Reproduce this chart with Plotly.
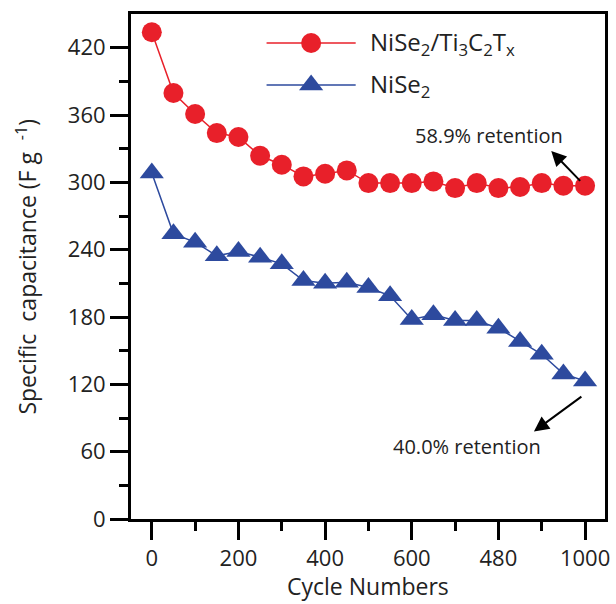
import plotly.graph_objects as go

# Cycling stability: specific capacitance every 50 cycles
cycles = list(range(0, 1001, 50))
composite_cap = [433.7, 379.6, 360.9, 343.9, 340.4, 323.7, 315.7, 305.3, 307.6, 310.6,
                 299.3, 299.3, 299.3, 300.8, 294.9, 299.3, 294.9, 295.8, 299.3, 297.0, 297.0]
nise2_cap = [308.3, 254.1, 246.7, 234.5, 238.4, 233.3, 227.4, 212.5, 210.1, 211.0,
             206.3, 198.9, 177.8, 181.9, 176.8, 176.8, 170.0, 158.1, 146.8, 129.3, 123.0]

series_names = ["NiSe<sub>2</sub>/Ti<sub>3</sub>C<sub>2</sub>T<sub>x</sub>", "NiSe<sub>2</sub>"]
retention_labels = ["58.9% retention", "40.0% retention"]

x_tickvals = [0, 200, 400, 600, 800, 1000]
x_ticktext = ["0", "200", "400", "600", "480", "1000"]
y_tickvals = [0, 60, 120, 180, 240, 300, 360, 420]

RED = "#e8202a"
BLUE = "#2d4a9e"
FONT = "Open Sans"
TEXT = "#222"

fig = go.Figure()

fig.add_trace(go.Scatter(
    x=cycles, y=composite_cap, mode="lines+markers",
    line=dict(color=RED, width=1.5),
    marker=dict(symbol="circle", size=20, color=RED),
    showlegend=False,
))
fig.add_trace(go.Scatter(
    x=cycles, y=nise2_cap, mode="lines+markers",
    line=dict(color=BLUE, width=1.5),
    marker=dict(symbol="triangle-up", size=21, color=BLUE),
    showlegend=False,
))

# Hand-drawn legend on an overlay axis spanning the plot area (0..1)
legend_rows = [(0.9426, RED, "circle", 20, series_names[0]),
               (0.8594, BLUE, "triangle-up", 21, series_names[1])]
for yrow, col, sym, msize, name in legend_rows:
    fig.add_trace(go.Scatter(
        x=[0.286, 0.474], y=[yrow, yrow], mode="lines",
        line=dict(color=col, width=1.5), xaxis="x2", yaxis="y2",
        showlegend=False, hoverinfo="skip",
    ))
    fig.add_trace(go.Scatter(
        x=[0.380], y=[yrow], mode="markers",
        marker=dict(symbol=sym, size=msize, color=col), xaxis="x2", yaxis="y2",
        showlegend=False, hoverinfo="skip",
    ))
    fig.add_annotation(x=0.499, y=yrow, xref="x2", yref="y2", text=name,
                       showarrow=False, xanchor="left", yanchor="middle",
                       font=dict(family=FONT, size=24, color=TEXT))

# Retention labels and arrows
fig.add_annotation(x=0.756, y=0.760, xref="paper", yref="paper",
                   text=retention_labels[0], showarrow=False,
                   xanchor="center", yanchor="middle",
                   font=dict(family=FONT, size=20, color=TEXT))
fig.add_annotation(x=922, y=328, ax=992, ay=300, xref="x", yref="y",
                   axref="x", ayref="y", text="", showarrow=True,
                   arrowhead=2, arrowsize=1.5, arrowwidth=2, arrowcolor="black")
fig.add_annotation(x=0.708, y=0.1426, xref="paper", yref="paper",
                   text=retention_labels[1], showarrow=False,
                   xanchor="center", yanchor="middle",
                   font=dict(family=FONT, size=20, color=TEXT))
fig.add_annotation(x=882, y=78, ax=995, ay=110, xref="x", yref="y",
                   axref="x", ayref="y", text="", showarrow=True,
                   arrowhead=2, arrowsize=1.5, arrowwidth=2, arrowcolor="black")

# Axis titles
fig.add_annotation(x=-0.2213, y=0.5, xref="paper", yref="paper",
                   text="Specific  capacitance (F g  <sup>-1</sup>)", textangle=-90,
                   showarrow=False, xanchor="center", yanchor="middle",
                   font=dict(family=FONT, size=23, color=TEXT))
fig.add_annotation(x=0.5, y=-0.133, xref="paper", yref="paper",
                   text="Cycle Numbers", showarrow=False,
                   xanchor="center", yanchor="middle",
                   font=dict(family=FONT, size=23, color=TEXT))

axis_common = dict(
    showline=True, linecolor="black", linewidth=3, mirror=True,
    showgrid=False, zeroline=False, ticks="outside", ticklen=18, tickwidth=3,
    tickcolor="black", tickfont=dict(family=FONT, size=22, color=TEXT),
)

fig.update_layout(
    width=616, height=604,
    margin=dict(l=131, r=6, t=14, b=85),
    paper_bgcolor="white", plot_bgcolor="white",
    xaxis=dict(range=[-48, 1046], tickvals=x_tickvals, ticktext=x_ticktext,
               minor=dict(tickvals=[100, 300, 500, 700, 900], ticks="outside",
                          ticklen=9, tickwidth=3, tickcolor="black"),
               **axis_common),
    yaxis=dict(range=[0, 450], tickvals=y_tickvals,
               minor=dict(tickvals=[30, 90, 150, 210, 270, 330, 390], ticks="outside",
                          ticklen=9, tickwidth=3, tickcolor="black"),
               **axis_common),
    xaxis2=dict(overlaying="x", range=[0, 1], visible=False),
    yaxis2=dict(overlaying="y", range=[0, 1], visible=False),
    showlegend=False,
)

fig.write_html("out.html")
